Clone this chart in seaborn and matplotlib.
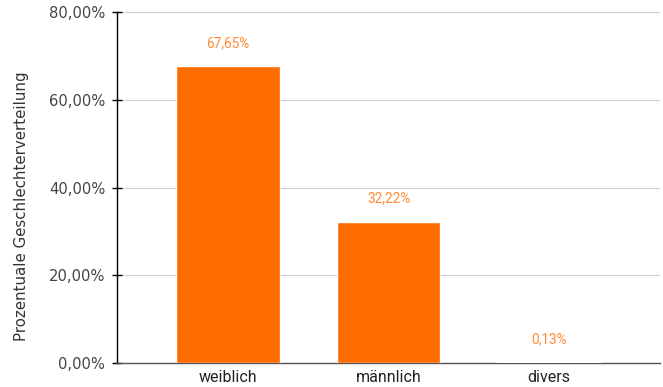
import matplotlib
matplotlib.use("Agg")
import matplotlib.pyplot as plt
import seaborn as sns
import pandas as pd
from matplotlib.ticker import FuncFormatter

# Chart data
categories = ["weiblich", "männlich", "divers"]
shares = [67.65, 32.22, 0.13]
y_ticks = [0, 20, 40, 60, 80]

bar_color = "#ff6d00"
label_color = "#ff8a33"

df = pd.DataFrame({"Geschlecht": categories, "Anteil": shares})

sns.set_style("white")
plt.rcParams["font.family"] = ["DejaVu Sans"]

fig = plt.figure(figsize=(6.63, 3.87), dpi=100)
ax = fig.add_axes([0.1765, 0.062, 0.819, 0.907])

sns.barplot(data=df, x="Geschlecht", y="Anteil", color=bar_color,
            width=0.645, saturation=1, ax=ax, zorder=3)

# Value labels above the bars
for i, v in enumerate(shares):
    ax.annotate(f"{v:.2f}%".replace(".", ","), (i, v), xytext=(0, 16.5),
                textcoords="offset points", ha="center", va="center",
                fontsize=9.8, color=label_color, family="Roboto")

ax.set_ylim(0, 80)
ax.set_xlim(-0.69, 2.69)
ax.set_yticks(y_ticks)
ax.yaxis.set_major_formatter(FuncFormatter(lambda v, p: f"{v:.2f}%".replace(".", ",")))
ax.grid(axis="y", color="#cccccc", linewidth=0.8, zorder=0)

for side in ["top", "right"]:
    ax.spines[side].set_visible(False)
ax.spines["left"].set_color("#000000")
ax.spines["left"].set_linewidth(1)
ax.spines["bottom"].set_color("#555555")
ax.spines["bottom"].set_linewidth(1)

ax.tick_params(axis="y", left=True, length=7, width=1, color="#000000", direction="inout",
               labelsize=10.6, labelcolor="#444444", pad=5)
ax.tick_params(axis="x", length=0, labelsize=11.5, labelcolor="#222222", pad=5)
for lbl in ax.get_xticklabels():
    lbl.set_family("Roboto")

ax.set_xlabel("")
ax.set_ylabel("Prozentuale Geschlechterverteilung", fontsize=10.8,
              color="#333333")
ax.yaxis.set_label_coords(-0.162, 0.447)

fig.savefig("out.png", dpi=100)
